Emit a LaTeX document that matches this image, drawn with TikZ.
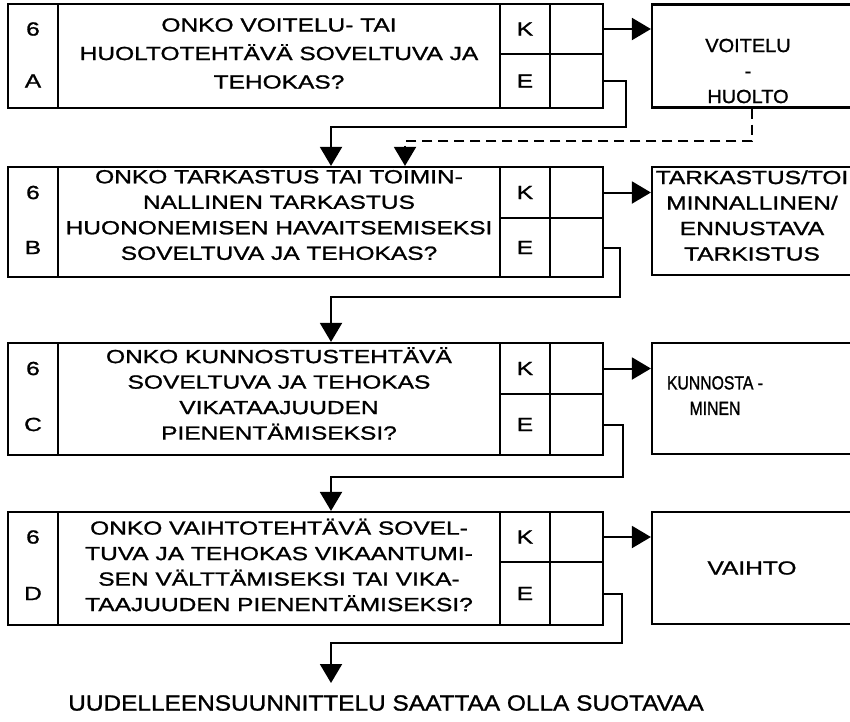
\documentclass[tikz,border=0pt]{standalone}
\usepackage{fontspec}
\setmainfont{Liberation Sans}[FakeStretch=1.29, FakeBold=1.2]
\newfontfamily\notefont{Liberation Sans}[FakeStretch=1.11, FakeBold=1.2]
\newfontfamily\widefont{Liberation Sans}[FakeStretch=1.05, FakeBold=1.2]
\newfontfamily\narrowfont{Liberation Sans}[FakeStretch=0.83, FakeBold=1.2]
\usetikzlibrary{positioning, arrows.meta}

\begin{document}
\begin{tikzpicture}[x=1pt, y=-1pt,
  every node/.style={font=\fontsize{19}{25.5}\selectfont},
  cellbox/.style={rectangle, draw, line width=2.2pt, inner sep=0pt},
  qtext/.style={align=center, inner sep=0pt},
  conn/.style={line width=2pt, -{Triangle[length=19pt, width=22pt]}},
  dashconn/.style={conn, dash pattern=on 10pt off 6pt}]

\path[use as bounding box, fill=white] (0,0) rectangle (850,721);
\clip (0,0) rectangle (850,721);

% Row A
\node[cellbox, minimum width=50pt, minimum height=104pt] (colA) at (33,56) {};
\node[cellbox, minimum width=442pt, minimum height=104pt] (qA) at (279,56) {};
\node[cellbox, minimum width=50pt, minimum height=50pt] (kA) at (525,29) {K};
\node[cellbox, minimum width=50pt, minimum height=54pt] (eA) at (525,81) {E};
\node[cellbox, minimum width=53pt, minimum height=50pt] (kfA) at (576.5,29) {};
\node[cellbox, minimum width=53pt, minimum height=54pt] (efA) at (576.5,81) {};
\node[cellbox, minimum width=200pt, minimum height=103pt] (rA) at (752,56) {};
\node (sixA) at (colA |- kA) {6};
\node (letA) at (colA |- eA) {A};
\node[qtext] (tA) at ([yshift=2.5pt]qA.center) {ONKO VOITELU- TAI\\[3pt]
  HUOLTOTEHTÄVÄ SOVELTUVA JA\\[3pt] TEHOKAS?};
\node[qtext, font=\widefont\fontsize{19}{25.5}\selectfont] (trA)
  at ([xshift=-4pt, yshift=-15pt]rA.center) {VOITELU\\-\\HUOLTO};

% Row B
\node[cellbox, minimum width=50pt, minimum height=110pt] (colB) at (33,222) {};
\node[cellbox, minimum width=442pt, minimum height=110pt] (qB) at (279,222) {};
\node[cellbox, minimum width=50pt, minimum height=51pt] (kB) at (525,192.5) {K};
\node[cellbox, minimum width=50pt, minimum height=59pt] (eB) at (525,247.5) {E};
\node[cellbox, minimum width=53pt, minimum height=51pt] (kfB) at (576.5,192.5) {};
\node[cellbox, minimum width=53pt, minimum height=59pt] (efB) at (576.5,247.5) {};
\node[cellbox, minimum width=200pt, minimum height=108pt] (rB) at (752,221) {};
\node (sixB) at (colB |- kB) {6};
\node (letB) at (colB |- eB) {B};
\node[qtext] (tB) at ([yshift=7pt]qB.center) {ONKO TARKASTUS TAI TOIMIN-\\
  NALLINEN TARKASTUS\\ HUONONEMISEN HAVAITSEMISEKSI\\ SOVELTUVA JA TEHOKAS?};
\node[qtext] (trB) at ([yshift=5.5pt]rB.center) {TARKASTUS/TOI\\MINNALLINEN/\\ENNUSTAVA\\TARKISTUS};

% Row C
\node[cellbox, minimum width=50pt, minimum height=112pt] (colC) at (33,399) {};
\node[cellbox, minimum width=442pt, minimum height=112pt] (qC) at (279,399) {};
\node[cellbox, minimum width=50pt, minimum height=51pt] (kC) at (525,368.5) {K};
\node[cellbox, minimum width=50pt, minimum height=61pt] (eC) at (525,424.5) {E};
\node[cellbox, minimum width=53pt, minimum height=51pt] (kfC) at (576.5,368.5) {};
\node[cellbox, minimum width=53pt, minimum height=61pt] (efC) at (576.5,424.5) {};
\node[cellbox, minimum width=200pt, minimum height=111pt] (rC) at (752,398.5) {};
\node (sixC) at (colC |- kC) {6};
\node (letC) at (colC |- eC) {C};
\node[qtext] (tC) at ([yshift=5.5pt]qC.center) {ONKO KUNNOSTUSTEHTÄVÄ\\
  SOVELTUVA JA TEHOKAS\\ VIKATAAJUUDEN\\ PIENENTÄMISEKSI?};
\node[qtext, font=\narrowfont\fontsize{19}{25.5}\selectfont] (trC)
  at ([xshift=-37pt, yshift=3pt]rC.center) {KUNNOSTA -\\MINEN};

% Row D
\node[cellbox, minimum width=50pt, minimum height=113pt] (colD) at (33,568.5) {};
\node[cellbox, minimum width=442pt, minimum height=113pt] (qD) at (279,568.5) {};
\node[cellbox, minimum width=50pt, minimum height=50pt] (kD) at (525,537) {K};
\node[cellbox, minimum width=50pt, minimum height=63pt] (eD) at (525,593.5) {E};
\node[cellbox, minimum width=53pt, minimum height=50pt] (kfD) at (576.5,537) {};
\node[cellbox, minimum width=53pt, minimum height=63pt] (efD) at (576.5,593.5) {};
\node[cellbox, minimum width=200pt, minimum height=112pt] (rD) at (752,568) {};
\node (sixD) at (colD |- kD) {6};
\node (letD) at (colD |- eD) {D};
\node[qtext] (tD) at ([yshift=3.5pt]qD.center) {ONKO VAIHTOTEHTÄVÄ SOVEL-\\
  TUVA JA TEHOKAS VIKAANTUMI-\\ SEN VÄLTTÄMISEKSI TAI VIKA-\\ TAAJUUDEN PIENENTÄMISEKSI?};
\node[qtext] (trD) at (rD.center) {VAIHTO};

% Bottom note
\node[font=\notefont\fontsize{22}{24}\selectfont, inner sep=0pt] (note) at (386,703)
  {UUDELLEENSUUNNITTELU SAATTAA OLLA SUOTAVAA};

% K arrows
\draw[conn] (kfA.east) -- (kfA.east -| rA.west);
\draw[conn] (kfB.east) -- (kfB.east -| rB.west);
\draw[conn] (kfC.east) -- (kfC.east -| rC.west);
\draw[conn] (kfD.east) -- (kfD.east -| rD.west);

% E arrows
\coordinate (turnA) at (626,127);
\coordinate (turnB) at (620,297);
\coordinate (turnC) at (623,477);
\coordinate (turnD) at (622,643);
\coordinate (endD) at (331,683);
\draw[conn] (efA.east) -| (turnA) -| ([xshift=52pt]qB.north);
\draw[conn] (efB.east) -| (turnB) -| ([xshift=52pt]qC.north);
\draw[conn] (efC.east) -| (turnC) -| ([xshift=52pt]qD.north);
\draw[conn] (efD.east) -| (turnD) -| (endD);

% dashed return
\coordinate (dashA) at (405,141);
\draw[dashconn] (rA.south) |- (dashA) -- ([xshift=126pt]qB.north);

\end{tikzpicture}
\end{document}
